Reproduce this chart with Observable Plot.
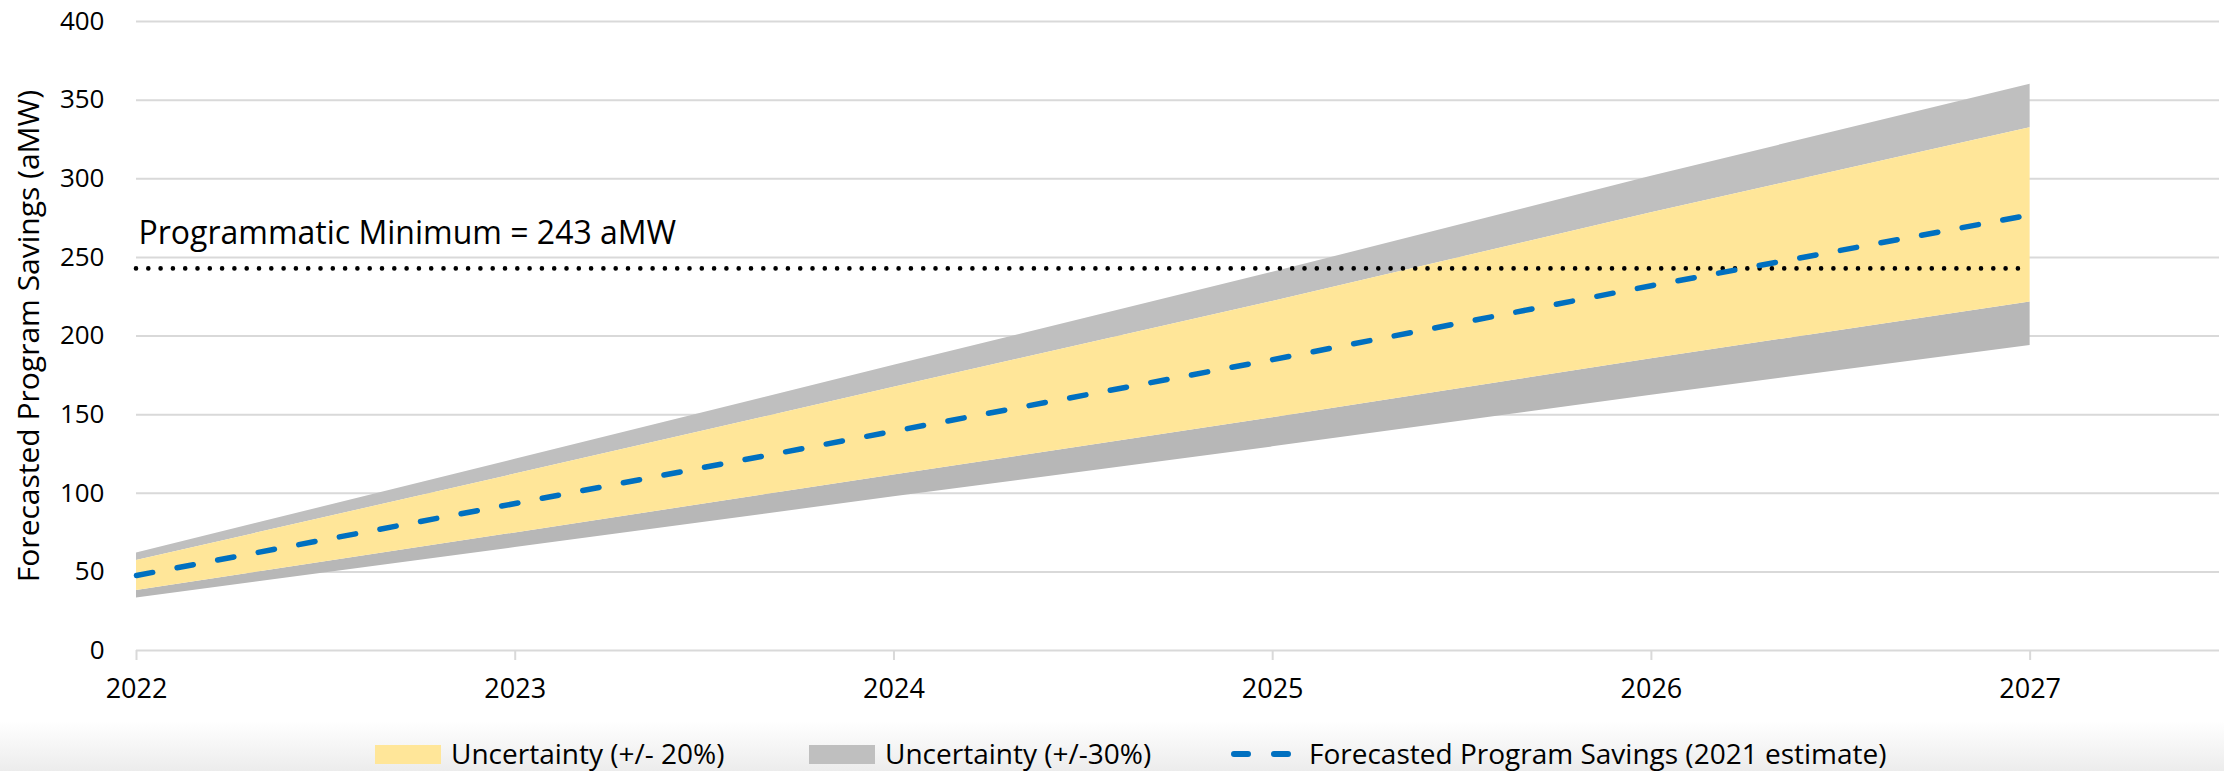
<!DOCTYPE html>
<html>
<head>
<meta charset="utf-8">
<script src="https://cdn.jsdelivr.net/npm/d3@7"></script>
<script src="https://cdn.jsdelivr.net/npm/@observablehq/plot@0.6"></script>
<style>
  html, body { margin: 0; padding: 0; background: #fff; }
  #wrap { width: 2224px; height: 771px; position: relative; overflow: hidden; font-family: "Open Sans", sans-serif; }
  #legend { position: absolute; left: 0; top: 721px; width: 2224px; height: 50px;
            background: linear-gradient(#ffffff, #ececec); }
  .item { position: absolute; top: 0; height: 50px; display: flex; align-items: center; font-size: 28px; color: #000; white-space: nowrap; }
  .sw { display: inline-block; width: 66px; height: 19px; margin-right: 10px; margin-top: 16px; }
  .item span.t { margin-top: 14px; }
</style>
</head>
<body>
<div id="wrap">
  <div id="chart"></div>
  <div id="legend"></div>
</div>
<script>
const years = [2022, 2023, 2024, 2025, 2026, 2027];
const forecast = [47.7, 93.5, 139.5, 185, 232, 277];
const low20 = [38.2, 74.8, 111.6, 148, 185.6, 221.6];
const high20 = [57.2, 112.2, 167.4, 222, 278.4, 332.4];
const low30 = [33.4, 65.5, 97.7, 129.5, 162.4, 193.9];
const high30 = [62, 121.6, 181.4, 240.5, 301.6, 360.1];
const programmaticMinimum = 243;
const yTicks = [0, 50, 100, 150, 200, 250, 300, 350, 400];
const xTicks = [2022, 2023, 2024, 2025, 2026, 2027];
const annotation = "Programmatic Minimum = 243 aMW";
const yLabel = "Forecasted Program Savings (aMW)";
const legendLabels = ["Uncertainty (+/- 20%)", "Uncertainty (+/-30%)", "Forecasted Program Savings (2021 estimate)"];

const rows = years.map((y, i) => ({
  year: y, f: forecast[i], l20: low20[i], h20: high20[i], l30: low30[i], h30: high30[i]
}));

const plot = Plot.plot({
  width: 2224,
  height: 721,
  marginLeft: 136,
  marginRight: 5,
  marginTop: 21,
  marginBottom: 71,
  style: { fontFamily: "Open Sans, sans-serif", color: "#000", background: "transparent" },
  x: { domain: [2022, 2027.5] },
  y: { domain: [0, 400] },
  marks: [
    Plot.ruleY(yTicks, { stroke: "#d9d9d9", strokeWidth: 2 }),
    Plot.areaY(rows, { x: "year", y1: "h20", y2: "h30", fill: "#bfbfbf" }),
    Plot.areaY(rows, { x: "year", y1: "l30", y2: "l20", fill: "#b7b7b7" }),
    Plot.areaY(rows, { x: "year", y1: "l20", y2: "h20", fill: "#ffe699" }),
    Plot.ruleY([programmaticMinimum], { x1: 2022, x2: 2027, stroke: "#000", strokeWidth: 4.6, strokeDasharray: "0 12.3", strokeLinecap: "round" }),
    Plot.lineY(rows, { x: "year", y: "f", stroke: "#0070c0", strokeWidth: 5.5, strokeDasharray: "16.5 24.8", strokeLinecap: "round" }),
    Plot.text([annotation], { x: 2022, y: programmaticMinimum, text: d => d, textAnchor: "start", dx: 2, dy: -35, fontSize: 32, fill: "#000" }),
    Plot.axisY({ ticks: yTicks, tickSize: 0, tickPadding: 32, fontSize: 26, fill: "#000", label: null }),
    Plot.axisX({ ticks: xTicks, tickFormat: d => String(d), tickSize: 10, tickPadding: 18, stroke: "#d9d9d9", strokeWidth: 2, fontSize: 27, fill: "#000", label: null }),
    Plot.text([yLabel], { frameAnchor: "left", textAnchor: "middle", text: d => d, rotate: -90, dx: -107, fontSize: 30, fill: "#000" })
  ]
});
document.getElementById("chart").appendChild(plot);

// legend
const legend = document.getElementById("legend");
function addItem(left, swatchHtml, label) {
  const d = document.createElement("div");
  d.className = "item";
  d.style.left = left + "px";
  d.innerHTML = swatchHtml + '<span class="t">' + label + '</span>';
  legend.appendChild(d);
}
addItem(375, '<span class="sw" style="background:#ffe699"></span>', legendLabels[0]);
addItem(809, '<span class="sw" style="background:#bfbfbf"></span>', legendLabels[1]);
addItem(1231, '<svg width="70" height="20" style="margin-right:8px;margin-top:16px"><line x1="3" y1="10" x2="67" y2="10" stroke="#0070c0" stroke-width="6" stroke-linecap="round" stroke-dasharray="14 26"/></svg>', legendLabels[2]);
</script>
</body>
</html>
